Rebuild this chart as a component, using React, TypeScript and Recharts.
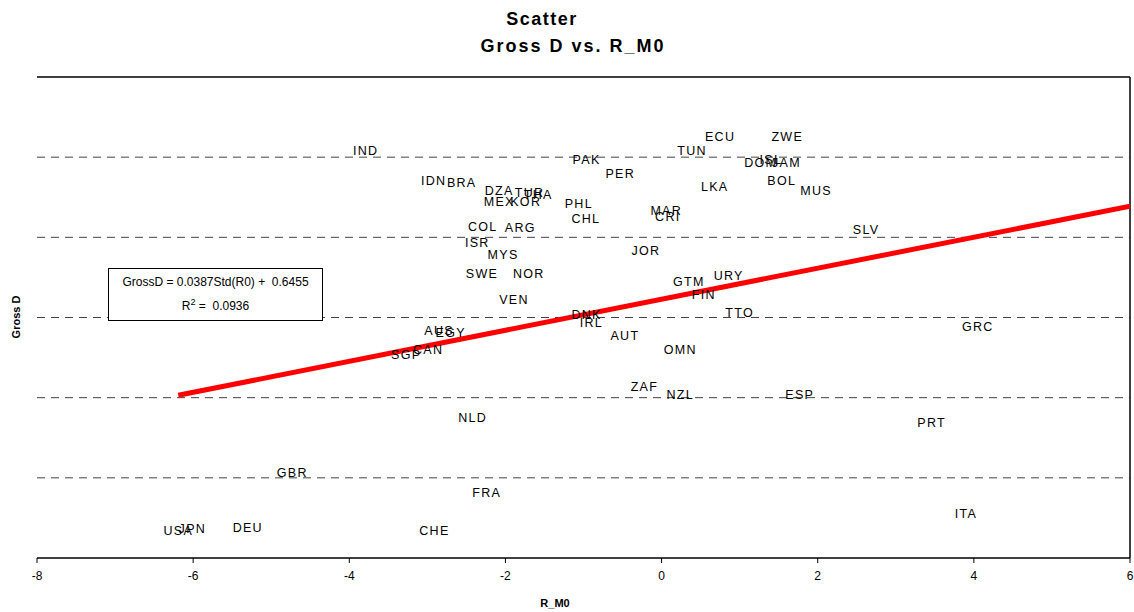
import React from 'react';
import { ScatterChart, Scatter, XAxis, YAxis, ReferenceLine } from 'recharts';

const countries = ['IND','ECU','ZWE','TUN','PAK','DOM','JAM','ISL','PER','BOL','LKA','MUS','IDN','BRA','DZA','TUR','THA','MEX','KOR','PHL','CHL','MAR','CRI','COL','ARG','SLV','ISR','JOR','MYS','SWE','NOR','URY','GTM','FIN','VEN','TTO','DNK','IRL','GRC','AUS','EGY','AUT','CAN','SGP','OMN','ZAF','NZL','ESP','NLD','PRT','GBR','FRA','ITA','USA','JPN','DEU','CHE'];
const rM0 = [-3.79,0.75,1.61,0.39,-0.96,1.27,1.60,1.40,-0.53,1.54,0.68,1.98,-2.92,-2.56,-2.08,-1.69,-1.58,-2.08,-1.74,-1.06,-0.97,0.06,0.08,-2.29,-1.81,2.62,-2.36,-0.20,-2.03,-2.30,-1.70,0.86,0.35,0.54,-1.89,1.00,-0.96,-0.90,4.05,-2.85,-2.70,-0.47,-2.99,-3.27,0.24,-0.22,0.24,1.77,-2.42,3.46,-4.73,-2.24,3.90,-6.19,-6.01,-5.30,-2.91];
const grossD = [1.015,1.050,1.050,1.015,0.993,0.986,0.986,0.993,0.958,0.941,0.926,0.916,0.941,0.936,0.916,0.911,0.906,0.888,0.888,0.883,0.846,0.866,0.851,0.826,0.823,0.818,0.786,0.766,0.756,0.709,0.709,0.704,0.689,0.656,0.644,0.611,0.606,0.586,0.576,0.566,0.561,0.554,0.519,0.506,0.519,0.427,0.407,0.407,0.349,0.337,0.212,0.162,0.110,0.067,0.072,0.075,0.067];

const xTicks = [-8, -6, -4, -2, 0, 2, 4, 6];
const yGrid = [0.2, 0.4, 0.6, 0.8, 1.0];
const TREND_SLOPE = 0.0387;
const TREND_INTERCEPT = 0.6455;
const TREND_X = [-6.19, 6];
const R2 = 0.0936;

const points = countries.map((c, i) => ({ name: c, x: rM0[i], y: grossD[i] }));
const trend = TREND_X.map((x) => ({ x, y: TREND_SLOPE * x + TREND_INTERCEPT }));

const FONT = 'Arial, "Liberation Sans", sans-serif';

const LabelShape = (props: any) => {
  const { cx, cy, payload } = props;
  return (
    <text x={cx} y={cy} textAnchor="middle" dominantBaseline="central" fontSize={12.5} letterSpacing={1.3} fontFamily={FONT} fill="#000">
      {payload.name}
    </text>
  );
};

export default function App() {
  return (
    <div style={{ position: 'absolute', left: 0, top: 0, width: 1134, height: 612, background: '#fff', fontFamily: FONT }}>
      <div style={{ position: 'absolute', left: 542, top: 19, transform: 'translate(-50%, -50%)', fontWeight: 'bold', fontSize: 18, letterSpacing: 1.5, whiteSpace: 'nowrap', color: '#000' }}>
        Scatter
      </div>
      <div style={{ position: 'absolute', left: 573, top: 46, transform: 'translate(-50%, -50%)', fontWeight: 'bold', fontSize: 18, letterSpacing: 2, whiteSpace: 'nowrap', color: '#000' }}>
        Gross D vs. R_M0
      </div>
      <ScatterChart width={1134} height={612} margin={{ top: 77, right: 4, bottom: 24, left: 37 }}>
        <XAxis
          type="number"
          dataKey="x"
          domain={[-8, 6]}
          ticks={xTicks}
          interval={0}
          height={30}
          axisLine={{ stroke: '#000', strokeWidth: 1.5 }}
          tickLine={{ stroke: '#000' }}
          tickSize={5}
          tickMargin={8}
          tick={{ fill: '#000', fontSize: 12, fontFamily: FONT }}
          allowDataOverflow
        />
        <YAxis
          type="number"
          dataKey="y"
          domain={[0, 1.2]}
          width={0}
          tick={false}
          tickLine={false}
          axisLine={{ stroke: '#808080', strokeWidth: 1.5 }}
          allowDataOverflow
        />
        {yGrid.map((v) => (
          <ReferenceLine key={v} y={v} stroke="#444" strokeWidth={1} strokeDasharray="8 6" />
        ))}
        <ReferenceLine y={1.2} stroke="#000" strokeWidth={1.5} />
        <ReferenceLine x={6} stroke="#000" strokeWidth={1.5} />
        <Scatter data={trend} line={{ stroke: '#ff0000', strokeWidth: 5 }} shape={() => null} isAnimationActive={false} />
        <Scatter data={points} shape={LabelShape} isAnimationActive={false} />
      </ScatterChart>
      <div style={{ position: 'absolute', left: 108, top: 268, width: 213, height: 48, border: '1px solid #000', background: '#fff', fontSize: 12, color: '#000', textAlign: 'center', lineHeight: '20px', paddingTop: 3, boxSizing: 'content-box' }}>
        <div style={{ whiteSpace: 'nowrap' }}>GrossD = {TREND_SLOPE}Std(R0) + &nbsp;{TREND_INTERCEPT}</div>
        <div>R<sup style={{ fontSize: 9 }}>2</sup> = &nbsp;{R2}</div>
      </div>
      <div style={{ position: 'absolute', left: 16, top: 317, transform: 'translate(-50%, -50%) rotate(-90deg)', fontWeight: 'bold', fontSize: 11, whiteSpace: 'nowrap' }}>
        Gross D
      </div>
      <div style={{ position: 'absolute', left: 555, top: 603, transform: 'translate(-50%, -50%)', fontWeight: 'bold', fontSize: 11, whiteSpace: 'nowrap' }}>
        R_M0
      </div>
    </div>
  );
}
